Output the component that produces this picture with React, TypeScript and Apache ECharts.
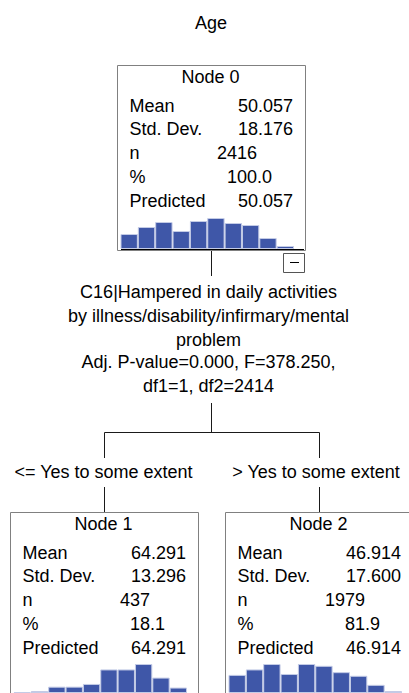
import React, { useEffect, useRef } from "react";
import * as echarts from "echarts";

const title = "Age";
const nodeNames = ["Node 0", "Node 1", "Node 2"];
const rowLabels = ["Mean", "Std. Dev.", "n", "%", "Predicted"];
const means = ["50.057", "64.291", "46.914"];
const stdDevs = ["18.176", "13.296", "17.600"];
const counts = ["2416", "437", "1979"];
const percents = ["100.0", "18.1", "81.9"];
const predicted = ["50.057", "64.291", "46.914"];
const bins = ["1", "2", "3", "4", "5", "6", "7", "8", "9", "10"];
const hist0 = [15, 22, 27, 18, 28, 31, 26, 24, 11, 3];
const hist1 = [1, 2, 7, 7, 10, 26, 26, 32, 17, 6];
const hist2 = [20, 26, 32, 21, 32, 30, 23, 19, 9, 2];
const splitLines = [
  "C16|Hampered in daily activities",
  "by illness/disability/infirmary/mental",
  "problem",
  "Adj. P-value=0.000, F=378.250,",
  "df1=1, df2=2414",
];
const branchLabels = ["<= Yes to some extent", "> Yes to some extent"];

const FONT = '"Liberation Sans", Arial, sans-serif';
const BAR = "#3f57a8";

export default function App() {
  const ref = useRef<HTMLDivElement>(null);
  useEffect(() => {
    if (!ref.current) return;
    const chart = echarts.init(ref.current, null, { renderer: "svg" });
    const origins = [
      [117, 65],
      [10, 512],
      [225, 512],
    ];
    const hists = [hist0, hist1, hist2];
    const g: any[] = [];
    const txt = (x: number, y: number, t: string, align: string) => ({
      type: "text",
      x,
      y,
      z: 10,
      style: {
        text: t,
        font: `18px ${FONT}`,
        fill: "#000",
        align,
        verticalAlign: "middle",
      },
    });
    const line = (x1: number, y1: number, x2: number, y2: number, color = "#1a1a1a") => ({
      type: "line",
      z: 5,
      shape: { x1, y1, x2, y2 },
      style: { stroke: color, lineWidth: 1 },
    });
    g.push(txt(211, 23, title, "center"));
    origins.forEach(([ox, oy], i) => {
      g.push({
        type: "rect",
        z: 1,
        shape: { x: ox + 0.5, y: oy + 0.5, width: 188, height: 185 },
        style: { fill: "#fff", stroke: "#808080", lineWidth: 1 },
      });
      g.push(txt(ox + 93.5, oy + 12, nodeNames[i], "center"));
      const ys = [40.5, 64, 87.5, 112, 135.5];
      rowLabels.forEach((l, k) => g.push(txt(ox + 12.5, oy + ys[k], l, "left")));
      g.push(txt(ox + 176, oy + ys[0], means[i], "right"));
      g.push(txt(ox + 176, oy + ys[1], stdDevs[i], "right"));
      g.push(txt(ox + 140, oy + ys[2], counts[i], "right"));
      g.push(txt(ox + 155, oy + ys[3], percents[i], "right"));
      g.push(txt(ox + 176, oy + ys[4], predicted[i], "right"));
    });
    // baseline of node 0 histogram
    g.push(line(121, 249.5, 304, 249.5, "#000"));
    // collapse box
    g.push({
      type: "rect",
      z: 5,
      shape: { x: 283.5, y: 253.5, width: 21, height: 19 },
      style: { fill: "#fff", stroke: "#555", lineWidth: 1 },
    });
    g.push(line(290, 262.5, 299, 262.5, "#000"));
    // connectors
    g.push(line(211.5, 251, 211.5, 276));
    g.push(line(211.5, 403, 211.5, 432.5));
    g.push(line(104.5, 432.5, 319.5, 432.5));
    g.push(line(104.5, 432.5, 104.5, 458));
    g.push(line(319.5, 432.5, 319.5, 458));
    g.push(line(104.5, 487, 104.5, 512));
    g.push(line(319.5, 487, 319.5, 512));
    const splitY = [292, 316, 340, 362, 386];
    splitLines.forEach((s, k) => g.push(txt(208.5, splitY[k], s, "center")));
    g.push(txt(103.5, 472, branchLabels[0], "center"));
    g.push(txt(316, 472, branchLabels[1], "center"));

    const grids = origins.map(([ox, oy]) => ({
      left: ox + 3.5,
      top: oy + 152,
      width: 173.5,
      height: 32,
      containLabel: false,
    }));
    const option: any = {
      animation: false,
      backgroundColor: "#fff",
      grid: grids,
      xAxis: grids.map((_, i) => ({
        type: "category",
        gridIndex: i,
        data: bins,
        axisLabel: { show: false },
        axisTick: { show: false },
        axisLine: { show: true, lineStyle: { color: "#000", width: 1 } },
      })),
      yAxis: grids.map((_, i) => ({
        type: "value",
        gridIndex: i,
        min: 0,
        max: 32,
        axisLabel: { show: false },
        axisTick: { show: false },
        splitLine: { show: false },
        axisLine: { show: true, lineStyle: { color: "#000", width: 1 } },
      })),
      series: hists.map((d, i) => ({
        type: "bar",
        xAxisIndex: i,
        yAxisIndex: i,
        data: d,
        barCategoryGap: "0%",
        z: 20,
        itemStyle: { color: BAR, borderColor: "#c3cbe6", borderWidth: 1 },
      })),
      graphic: g,
    };
    chart.setOption(option);
    return () => chart.dispose();
  }, []);
  return (
    <div
      ref={ref}
      style={{ position: "absolute", left: 0, top: 0, width: 409, height: 693 }}
    />
  );
}
